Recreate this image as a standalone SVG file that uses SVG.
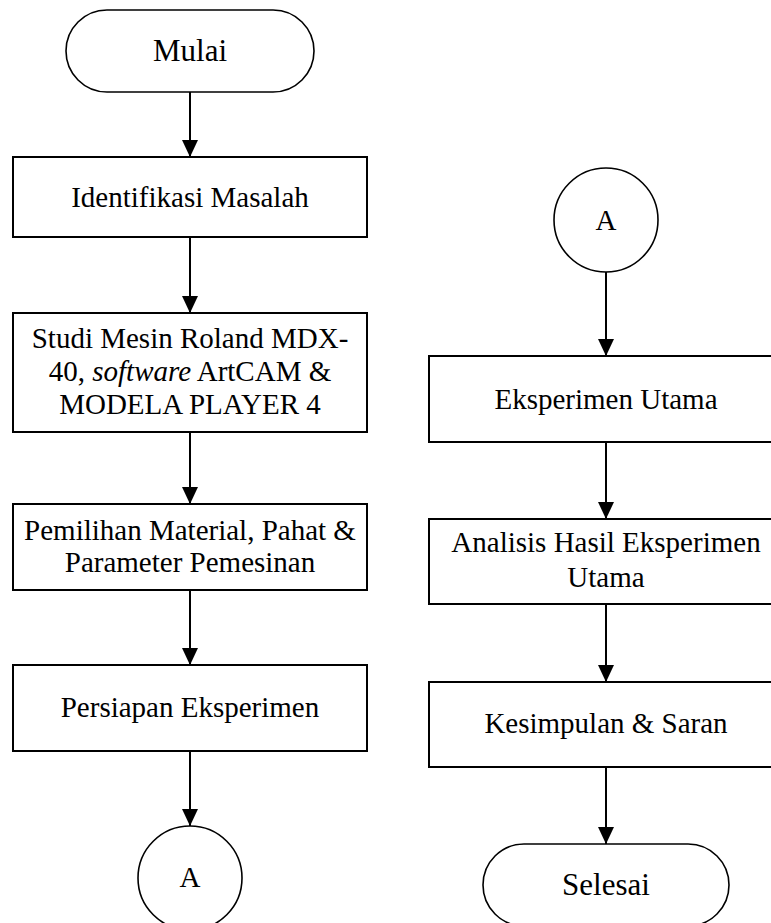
<svg xmlns="http://www.w3.org/2000/svg" width="771" height="923" viewBox="0 0 771 923">
<style>
.box{fill:#fff;stroke:#000;stroke-width:2}
.term{fill:#fff;stroke:#000;stroke-width:1.6}
text{font-family:'Liberation Serif','Times New Roman','DejaVu Serif',serif;font-size:29px;fill:#000;text-anchor:middle}
.tl{font-size:31px}
.conn line{stroke:#000;stroke-width:2;fill:none}
</style>
<defs>
<marker id="arr" markerUnits="userSpaceOnUse" viewBox="0 0 17 16" refX="17" refY="8" markerWidth="17" markerHeight="16" orient="auto">
<path d="M0,0 L17,8 L0,16 Z" fill="#000"/>
</marker>
</defs>
<rect width="771" height="923" fill="#fff"/>
<g id="connectors" class="conn">
<line x1="190" y1="92" x2="190" y2="157" marker-end="url(#arr)"/>
<line x1="190" y1="237" x2="190" y2="313" marker-end="url(#arr)"/>
<line x1="190" y1="432" x2="190" y2="504" marker-end="url(#arr)"/>
<line x1="190" y1="590" x2="190" y2="665" marker-end="url(#arr)"/>
<line x1="190" y1="751" x2="190" y2="826" marker-end="url(#arr)"/>
<line x1="606" y1="272" x2="606" y2="356" marker-end="url(#arr)"/>
<line x1="606" y1="442" x2="606" y2="519" marker-end="url(#arr)"/>
<line x1="606" y1="604" x2="606" y2="682" marker-end="url(#arr)"/>
<line x1="606" y1="767" x2="606" y2="844" marker-end="url(#arr)"/>
</g>
<g id="mulai" font-family="Liberation Serif, serif">
<rect class="term" x="66" y="10" width="248" height="82" rx="41" ry="41"/>
<text class="tl" x="190" y="61">Mulai</text>
</g>
<g id="identifikasi">
<rect class="box" x="13" y="157" width="354" height="80"/>
<text x="190" y="207">Identifikasi Masalah</text>
</g>
<g id="studi">
<rect class="box" x="13" y="313" width="354" height="119"/>
<text x="190" y="348">Studi Mesin Roland MDX-</text>
<text x="190" y="381">40, <tspan font-style="italic">software</tspan> ArtCAM &amp;</text>
<text x="190" y="414">MODELA PLAYER 4</text>
</g>
<g id="pemilihan">
<rect class="box" x="13" y="504" width="354" height="86"/>
<text x="190" y="540">Pemilihan Material, Pahat &amp;</text>
<text x="190" y="572">Parameter Pemesinan</text>
</g>
<g id="persiapan">
<rect class="box" x="13" y="665" width="354" height="86"/>
<text x="190" y="717">Persiapan Eksperimen</text>
</g>
<g id="connectorA1">
<circle class="term" cx="190" cy="878" r="52"/>
<text x="190" y="887">A</text>
</g>
<g id="connectorA2">
<circle class="term" cx="606" cy="220" r="52"/>
<text x="606" y="230">A</text>
</g>
<g id="eksperimen">
<rect class="box" x="429" y="356" width="354" height="86"/>
<text x="606" y="409">Eksperimen Utama</text>
</g>
<g id="analisis">
<rect class="box" x="429" y="519" width="354" height="85"/>
<text x="606" y="552">Analisis Hasil Eksperimen</text>
<text x="606" y="587">Utama</text>
</g>
<g id="kesimpulan">
<rect class="box" x="429" y="682" width="354" height="85"/>
<text x="606" y="733">Kesimpulan &amp; Saran</text>
</g>
<g id="selesai">
<rect class="term" x="483" y="844" width="246" height="82" rx="41" ry="41"/>
<text class="tl" x="606" y="895">Selesai</text>
</g>
</svg>
